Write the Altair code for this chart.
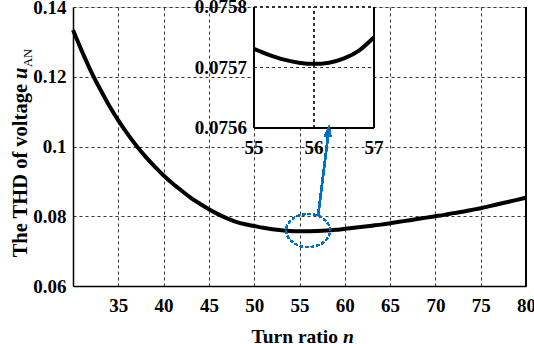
import altair as alt
import pandas as pd

# ---- data ----
n_main = list(range(30, 81))
thd_main = [0.1334, 0.1272, 0.1215, 0.1164, 0.1117, 0.1075, 0.1037, 0.1002, 0.0971, 0.0943,
            0.0917, 0.0894, 0.0873, 0.0853, 0.0836, 0.0820, 0.0806, 0.0794, 0.0784, 0.0777,
            0.0772, 0.0767, 0.0763, 0.0760, 0.07580, 0.07573, 0.07571, 0.07575, 0.07588, 0.0761,
            0.0764, 0.0767, 0.0770, 0.0773, 0.0776, 0.0780, 0.0784, 0.0788, 0.0792, 0.0796,
            0.0800, 0.0804, 0.0809, 0.0813, 0.0818, 0.0823, 0.0829, 0.0835, 0.0841, 0.0847,
            0.0853]

n_inset = [55, 55.25, 55.5, 55.75, 56, 56.25, 56.5, 56.75, 57]
thd_inset = [0.075731, 0.075721, 0.075713, 0.075708, 0.075706, 0.075708, 0.075715, 0.075728, 0.075750]

x_ticks = [35, 40, 45, 50, 55, 60, 65, 70, 75, 80]
y_ticks = [0.06, 0.08, 0.1, 0.12, 0.14]
inset_x_ticks = [55, 56, 57]
inset_x_labels = ["55", "56", "57"]
inset_y_ticks = [0.0756, 0.0757, 0.0758]
inset_y_labels = ["0.0756", "0.0757", "0.0758"]

FONT = "Liberation Serif"
BLUE = "#0072BD"
W, H = 453, 279
GRID_DASH = [3, 3]
TICK_FS = 19

main_df = pd.DataFrame({"n": n_main, "thd": thd_main})
inset_df = pd.DataFrame({"n": n_inset, "thd": thd_inset})

xs = alt.Scale(domain=[30, 80], nice=False, zero=False)
ys = alt.Scale(domain=[0.06, 0.14], nice=False, zero=False)

main_line = alt.Chart(main_df).mark_line(color="black", strokeWidth=4, interpolate="monotone").encode(
    x=alt.X("n:Q", scale=xs,
            axis=alt.Axis(values=x_ticks, title=None, grid=True, ticks=False,
                          gridDash=GRID_DASH, gridColor="#333", gridWidth=1,
                          domainColor="black", domainWidth=1.5,
                          labelFont=FONT, labelFontWeight="bold", labelFontSize=TICK_FS,
                          labelColor="black", labelPadding=10, labelFlush=False)),
    y=alt.Y("thd:Q", scale=ys,
            axis=alt.Axis(values=y_ticks, format="~g", title=None, grid=True, ticks=False,
                          gridDash=GRID_DASH, gridColor="#333", gridWidth=1,
                          domainColor="black", domainWidth=1.5,
                          labelFont=FONT, labelFontWeight="bold", labelFontSize=TICK_FS,
                          labelColor="black", labelPadding=7, labelFlush=False)),
)

right_edge = alt.Chart(main_df).mark_rule(color="black", strokeWidth=1.5).encode(
    x=alt.datum(80, scale=xs), y=alt.datum(0.06, scale=ys), y2=alt.datum(0.14)
)

main_layer = alt.layer(main_line, right_edge)

# ---- inset ----
ixs = alt.Scale(domain=[55, 57], range=[181, 301], nice=False, zero=False)
iys = alt.Scale(domain=[0.0756, 0.0758], range=[121, 0], nice=False, zero=False)

inset_bg = alt.Chart(inset_df).mark_rect(fill="white", stroke=None).encode(
    x=alt.datum(55, scale=ixs, axis=None), x2=alt.datum(57),
    y=alt.datum(0.0756, scale=iys, axis=None), y2=alt.datum(0.0758),
)
inset_vgrid = alt.Chart(inset_df).mark_rule(color="#333", strokeWidth=1, strokeDash=GRID_DASH).encode(
    x=alt.datum(56, scale=ixs, axis=None), y=alt.datum(0.0756, scale=iys, axis=None), y2=alt.datum(0.0758)
)
inset_hgrid = alt.Chart(inset_df).mark_rule(color="#333", strokeWidth=1, strokeDash=GRID_DASH).encode(
    x=alt.datum(55, scale=ixs, axis=None), x2=alt.datum(57),
    y=alt.datum(0.0757, scale=iys, axis=None)
)
inset_top = alt.Chart(inset_df).mark_rule(color="#333", strokeWidth=1, strokeDash=GRID_DASH).encode(
    x=alt.datum(55, scale=ixs, axis=None), x2=alt.datum(57),
    y=alt.datum(0.0758, scale=iys, axis=None)
)
inset_left = alt.Chart(inset_df).mark_rule(color="black", strokeWidth=2).encode(
    x=alt.datum(55, scale=ixs, axis=None), y=alt.datum(0.0756, scale=iys, axis=None), y2=alt.datum(0.0758)
)
inset_right = alt.Chart(inset_df).mark_rule(color="black", strokeWidth=2).encode(
    x=alt.datum(57, scale=ixs, axis=None), y=alt.datum(0.0756, scale=iys, axis=None), y2=alt.datum(0.0758)
)
inset_bottom = alt.Chart(inset_df).mark_rule(color="black", strokeWidth=2).encode(
    x=alt.datum(55, scale=ixs, axis=None), x2=alt.datum(57),
    y=alt.datum(0.0756, scale=iys, axis=None)
)
inset_line = alt.Chart(inset_df).mark_line(color="black", strokeWidth=4, interpolate="monotone").encode(
    x=alt.X("n:Q", scale=ixs, axis=None), y=alt.Y("thd:Q", scale=iys, axis=None)
)
iy_df = pd.DataFrame({"v": inset_y_ticks, "lab": inset_y_labels})
ix_df = pd.DataFrame({"v": inset_x_ticks, "lab": inset_x_labels})
inset_ylab = alt.Chart(iy_df).mark_text(font=FONT, fontWeight="bold", fontSize=TICK_FS, color="black",
                                        align="right", baseline="middle", dx=-7).encode(
    x=alt.datum(55, scale=ixs, axis=None), y=alt.Y("v:Q", scale=iys, axis=None), text="lab:N"
)
inset_xlab = alt.Chart(ix_df).mark_text(font=FONT, fontWeight="bold", fontSize=TICK_FS, color="black",
                                        align="center", baseline="alphabetic", dy=26).encode(
    x=alt.X("v:Q", scale=ixs, axis=None), y=alt.datum(0.0756, scale=iys, axis=None), text="lab:N"
)
inset_layer = alt.layer(inset_bg, inset_vgrid, inset_hgrid, inset_top, inset_line,
                        inset_left, inset_right, inset_bottom, inset_ylab, inset_xlab)

# ---- annotations (main scales) ----
ellipse = alt.Chart(main_df).mark_point(
    shape="M -1 0 A 1 0.75 0 1 0 1 0 A 1 0.75 0 1 0 -1 0 Z",
    filled=False, color=BLUE, strokeWidth=1.6, strokeDash=[3, 2.5], size=1936, opacity=1
).encode(x=alt.datum(55.95, scale=xs, axis=None), y=alt.datum(0.0759, scale=ys, axis=None))

arrow_line = alt.Chart(main_df).mark_rule(color=BLUE, strokeWidth=1.8).encode(
    x=alt.datum(57.05, scale=xs, axis=None), x2=alt.datum(58.15),
    y=alt.datum(0.0801, scale=ys, axis=None), y2=alt.datum(0.1030)
)
arrow_head = alt.Chart(main_df).mark_point(
    shape="M 0 -1 L 0.65 1 L -0.65 1 Z", filled=True, color=BLUE, size=130, angle=7.7, opacity=1
).encode(x=alt.datum(58.2, scale=xs, axis=None), y=alt.datum(0.1045, scale=ys, axis=None))

annot_layer = alt.layer(ellipse, arrow_line, arrow_head)

# ---- axis titles as text (mixed bold / italic / subscript) ----
tdf = pd.DataFrame({"a": [0]})
xt1 = alt.Chart(tdf).mark_text(text="Turn ratio", font=FONT, fontWeight="bold", fontSize=19.5,
                               color="black", align="right", baseline="alphabetic").encode(
    x=alt.value(265), y=alt.value(336))
xt2 = alt.Chart(tdf).mark_text(text="n", font=FONT, fontWeight="bold", fontStyle="italic", fontSize=19.5,
                               color="black", align="left", baseline="alphabetic").encode(
    x=alt.value(270), y=alt.value(336))
yt1 = alt.Chart(tdf).mark_text(text="The THD of voltage", font=FONT, fontWeight="bold", fontSize=20.5,
                               color="black", align="right", baseline="alphabetic", angle=270).encode(
    x=alt.value(-46), y=alt.value(77))
yt2 = alt.Chart(tdf).mark_text(text="u", font=FONT, fontWeight="bold", fontStyle="italic", fontSize=20.5,
                               color="black", align="left", baseline="alphabetic", angle=270).encode(
    x=alt.value(-46), y=alt.value(72))
yt3 = alt.Chart(tdf).mark_text(text="AN", font=FONT, fontWeight="normal", fontSize=12.5,
                               color="black", align="left", baseline="alphabetic", angle=270).encode(
    x=alt.value(-41), y=alt.value(60))
title_layer = alt.layer(xt1, xt2, yt1, yt2, yt3)

chart = alt.layer(main_layer, inset_layer, annot_layer, title_layer).resolve_scale(
    x="independent", y="independent"
).properties(
    width=W, height=H, autosize="none",
    padding={"left": 73, "top": 7, "right": 8, "bottom": 58},
).configure_view(stroke=None).configure(background="white")

chart.save("out.html", embed_options={"renderer": "svg", "actions": False})
